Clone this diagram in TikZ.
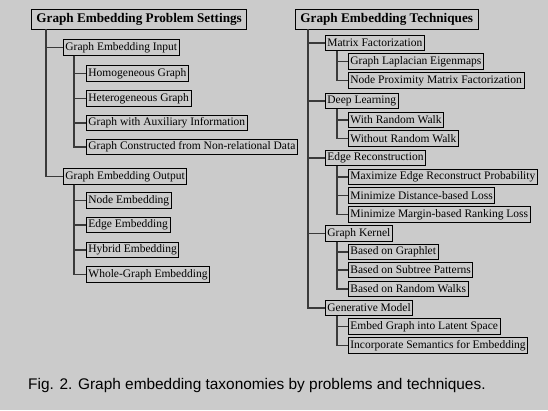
\documentclass[tikz,border=0pt]{standalone}
\usepackage{fontspec}
\setmainfont{Liberation Serif}
\setsansfont{Liberation Sans}
\usetikzlibrary{positioning}
\definecolor{bggray}{HTML}{CBCBCB}
\definecolor{linegray}{HTML}{3A3A3A}
\tikzset{
  catbox/.style={draw=black, line width=0.8pt, fill=bggray, anchor=west, inner xsep=2pt, inner ysep=1pt,
    minimum height=15.5pt, font=\fontsize{11.5}{12}\selectfont},
  topbox/.style={catbox, minimum height=20pt, inner xsep=5pt, font=\bfseries\fontsize{13.2}{14}\selectfont},
  branch/.style={draw=linegray, line width=1.1pt}
}
\begin{document}
\begin{tikzpicture}[x=1pt,y=-1pt]
  \fill[bggray] (0,0) rectangle (548,410);
  \useasboundingbox (0,0) rectangle (548,410);

  % problem settings
  \node[topbox] (probset) at (31,19) {Graph Embedding Problem Settings};
  \node[catbox] (geinput) at (63,47.5) {Graph Embedding Input};
  \node[catbox] (geoutput) at (63,176.5) {Graph Embedding Output};
  \foreach \n in {geinput, geoutput}
    \draw[branch] ([xshift=15pt]probset.south west) |- (\n.west);

  \foreach \n/\t/\y in {homo/Homogeneous Graph/73.5, hete/Heterogeneous Graph/98.5,
      aux/Graph with Auxiliary Information/123, nonrel/Graph Constructed from Non-relational Data/147}
  {
    \node[catbox] (\n) at (86,\y) {\t};
    \draw[branch] ([xshift=11pt]geinput.south west) |- (\n.west);
  }
  \foreach \n/\t/\y in {nodeemb/Node Embedding/200.5, edgeemb/Edge Embedding/225,
      hybemb/Hybrid Embedding/250, wholeemb/Whole-Graph Embedding/274.5}
  {
    \node[catbox] (\n) at (86,\y) {\t};
    \draw[branch] ([xshift=11pt]geoutput.south west) |- (\n.west);
  }

  % techniques
  \node[topbox] (techs) at (295,19) {Graph Embedding Techniques};
  \foreach \n/\t/\y in {matfac/Matrix Factorization/43, deeplrn/Deep Learning/101,
      edgerec/Edge Reconstruction/158, gkernel/Graph Kernel/233.5, genmod/Generative Model/308}
  {
    \node[catbox] (\n) at (325,\y) {\t};
    \draw[branch] ([xshift=13pt]techs.south west) |- (\n.west);
  }

  \foreach \p/\n/\t/\y in {matfac/lapeig/Graph Laplacian Eigenmaps/61.5,
      matfac/proxmf/Node Proximity Matrix Factorization/80.5,
      deeplrn/withrw/With Random Walk/120, deeplrn/withoutrw/Without Random Walk/138.5,
      edgerec/maxprob/Maximize Edge Reconstruct Probability/177,
      edgerec/mindist/Minimize Distance-based Loss/195.5,
      edgerec/minmargin/Minimize Margin-based Ranking Loss/214.5,
      gkernel/graphlet/Based on Graphlet/252, gkernel/subtree/Based on Subtree Patterns/270,
      gkernel/randwalks/Based on Random Walks/289,
      genmod/latent/Embed Graph into Latent Space/326.5,
      genmod/semantics/Incorporate Semantics for Embedding/345.5}
  {
    \node[catbox] (\n) at (348,\y) {\t};
    \draw[branch] ([xshift=12pt]\p.south west) |- (\n.west);
  }

  \node[anchor=west, inner sep=0pt, font=\sffamily\fontsize{15.4}{18}\selectfont] (caption) at (28,385.5)
    {Fig. 2. Graph embedding taxonomies by problems and techniques.};
\end{tikzpicture}
\end{document}
